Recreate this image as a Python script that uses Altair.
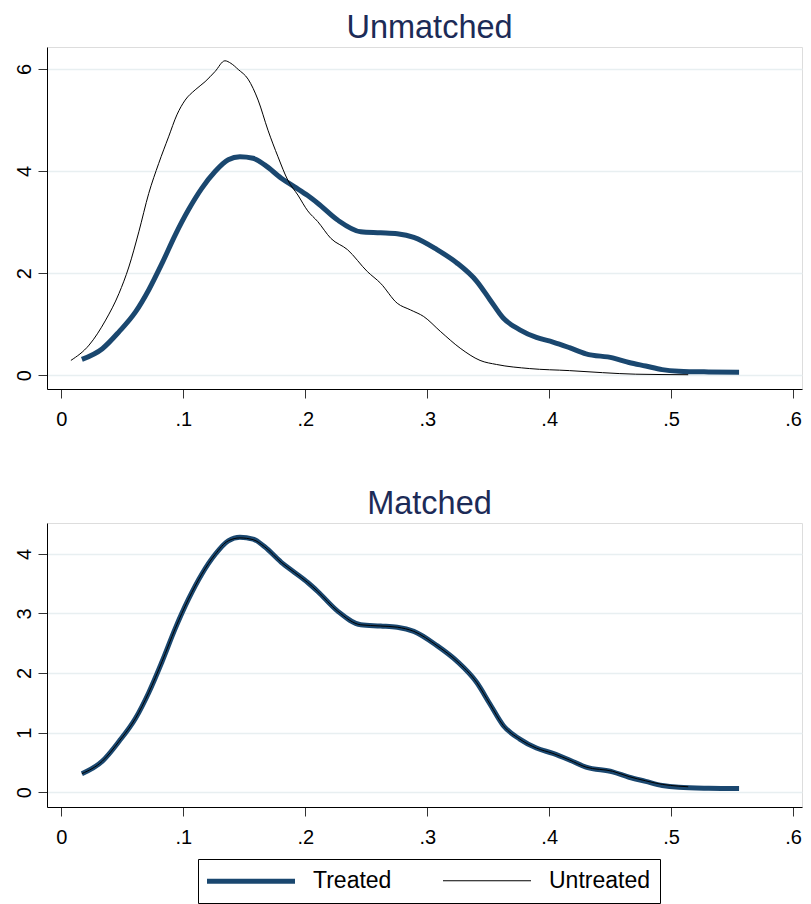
import altair as alt
import pandas as pd

groups = ["Treated", "Untreated"]

# Treated density (identical in both panels)
treated_x = [0.0168, 0.0336, 0.0472, 0.0608, 0.0716, 0.0825, 0.0934, 0.1042, 0.1151, 0.1260,
             0.1368, 0.1464, 0.1572, 0.1667, 0.1803, 0.1912, 0.2020, 0.2102, 0.2265, 0.2455,
             0.2618, 0.2754, 0.2890, 0.3080, 0.3243, 0.3406, 0.3514, 0.3623, 0.3759, 0.3895,
             0.4031, 0.4166, 0.4302, 0.4520, 0.4655, 0.4791, 0.4927, 0.5063, 0.5307, 0.5557]
treated_y = [0.31, 0.52, 0.85, 1.24, 1.67, 2.19, 2.75, 3.24, 3.66, 3.99,
             4.22, 4.28, 4.25, 4.12, 3.86, 3.69, 3.52, 3.37, 3.04, 2.81,
             2.79, 2.77, 2.70, 2.46, 2.20, 1.84, 1.48, 1.12, 0.89, 0.74,
             0.65, 0.54, 0.42, 0.34, 0.25, 0.18, 0.11, 0.08, 0.065, 0.06]

# Untreated density, unmatched sample
unm_x = [0.0078, 0.0227, 0.0363, 0.0472, 0.0553, 0.0635, 0.0716, 0.0798, 0.0879, 0.0947,
         0.1015, 0.1097, 0.1178, 0.1260, 0.1341, 0.1390, 0.1450, 0.1531, 0.1613, 0.1694,
         0.1776, 0.1857, 0.1939, 0.2020, 0.2102, 0.2210, 0.2346, 0.2509, 0.2618, 0.2754,
         0.2862, 0.2971, 0.3107, 0.3270, 0.3433, 0.3569, 0.3840, 0.4166, 0.4438, 0.4710, 0.5140]
unm_y = [0.29, 0.59, 1.08, 1.60, 2.12, 2.81, 3.56, 4.15, 4.67, 5.10,
         5.39, 5.59, 5.75, 5.95, 6.16, 6.11, 5.99, 5.80, 5.39, 4.80,
         4.28, 3.82, 3.53, 3.22, 3.01, 2.68, 2.46, 2.03, 1.80, 1.41,
         1.28, 1.15, 0.86, 0.53, 0.29, 0.21, 0.13, 0.09, 0.05, 0.02, 0.01]

# Untreated density, matched sample
mat_x = [0.0168, 0.0336, 0.0472, 0.0608, 0.0716, 0.0825, 0.0934, 0.1042, 0.1151, 0.1260,
         0.1368, 0.1464, 0.1572, 0.1667, 0.1803, 0.1912, 0.2020, 0.2102, 0.2265, 0.2455,
         0.2618, 0.2754, 0.2890, 0.3080, 0.3243, 0.3406, 0.3514, 0.3623, 0.3759, 0.3895,
         0.4031, 0.4166, 0.4302, 0.4520, 0.4655, 0.4791, 0.4927, 0.5063, 0.5140]
mat_y = [0.31, 0.52, 0.85, 1.24, 1.67, 2.19, 2.75, 3.24, 3.66, 3.99,
         4.22, 4.27, 4.24, 4.12, 3.86, 3.69, 3.52, 3.37, 3.04, 2.81,
         2.79, 2.77, 2.70, 2.46, 2.20, 1.84, 1.48, 1.12, 0.89, 0.74,
         0.65, 0.54, 0.42, 0.35, 0.26, 0.19, 0.13, 0.10, 0.09]

x_ticks = [0, 0.1, 0.2, 0.3, 0.4, 0.5, 0.6]
y_ticks_top = [0, 2, 4, 6]
y_ticks_bottom = [0, 1, 2, 3, 4]

FONT = "Liberation Sans"
NAVY = "#1a476f"
TITLE_COLOR = "#1c2b57"

def frame(xs, ys, g):
    return pd.DataFrame({"x": xs, "y": ys, "group": g})

top_t = frame(treated_x, treated_y, "Treated")
top_u = frame(unm_x, unm_y, "Untreated")
bot_t = frame(treated_x, treated_y, "Treated")
bot_u = frame(mat_x, mat_y, "Untreated")

color_scale = alt.Scale(domain=groups, range=[NAVY, "#000000"])
sw_scale = alt.Scale(domain=groups, range=[5, 1])

legend = alt.Legend(
    title=None, orient="none", legendX=151, legendY=812,
    direction="horizontal", columns=2,
    symbolType="M-4.4,0H4.4", symbolSize=400, symbolOffset=31,
    labelOffset=49.5, columnPadding=49, padding=9.5,
    labelFontSize=23, labelFont=FONT, labelColor="#000000",
    strokeColor="#000000", fillColor="#ffffff",
)

x_axis = alt.Axis(values=x_ticks, grid=False, title=None,
                  labelExpr="datum.value == 0 ? '0' : replace(format(datum.value, '.1f'), '0.', '.')",
                  labelFontSize=20, labelFont=FONT, labelColor="#000000",
                  tickSize=9, tickColor="#333333", domainColor="#000000",
                  labelPadding=11, labelFlush=False)

def y_axis(vals):
    return alt.Axis(values=vals, grid=True, gridColor="#e8eff1", gridWidth=1.6,
                    title=None, labelAngle=270, labelFontSize=20, labelFont=FONT,
                    labelColor="#000000", tickSize=9, tickColor="#333333",
                    domainColor="#000000", labelPadding=4, format="d")

def panel(dt, du, ydom, yvals, height, title):
    xenc = alt.X("x:Q", scale=alt.Scale(domain=[-0.0118, 0.6073], nice=False, zero=False), axis=x_axis)
    yenc = alt.Y("y:Q", scale=alt.Scale(domain=ydom, nice=False, zero=False), axis=y_axis(yvals))
    cenc = alt.Color("group:N", scale=color_scale, legend=legend)
    senc = alt.StrokeWidth("group:N", scale=sw_scale, legend=legend)
    lt = alt.Chart(dt).mark_line(interpolate="monotone", strokeCap="butt").encode(x=xenc, y=yenc, color=cenc, strokeWidth=senc)
    lu = alt.Chart(du).mark_line(interpolate="monotone").encode(x=xenc, y=yenc, color=cenc, strokeWidth=senc)
    return alt.layer(lt, lu).properties(
        width=755, height=height,
        title=alt.TitleParams(title, fontSize=32.5, font=FONT, fontWeight="normal",
                              color=TITLE_COLOR, anchor="middle", offset=3, dx=5),
    )

top = panel(top_t, top_u, [-0.27, 6.43], y_ticks_top, 342, "Unmatched")
bottom = panel(bot_t, bot_u, [-0.25, 4.52], y_ticks_bottom, 284, "Matched")

chart = alt.vconcat(top, bottom, spacing=57).properties(
    padding={"left": 5, "top": 3, "right": 0, "bottom": 2}
).configure_view(stroke=None).configure(font=FONT)

chart.save("out.html", embed_options={"renderer": "svg", "actions": False})
